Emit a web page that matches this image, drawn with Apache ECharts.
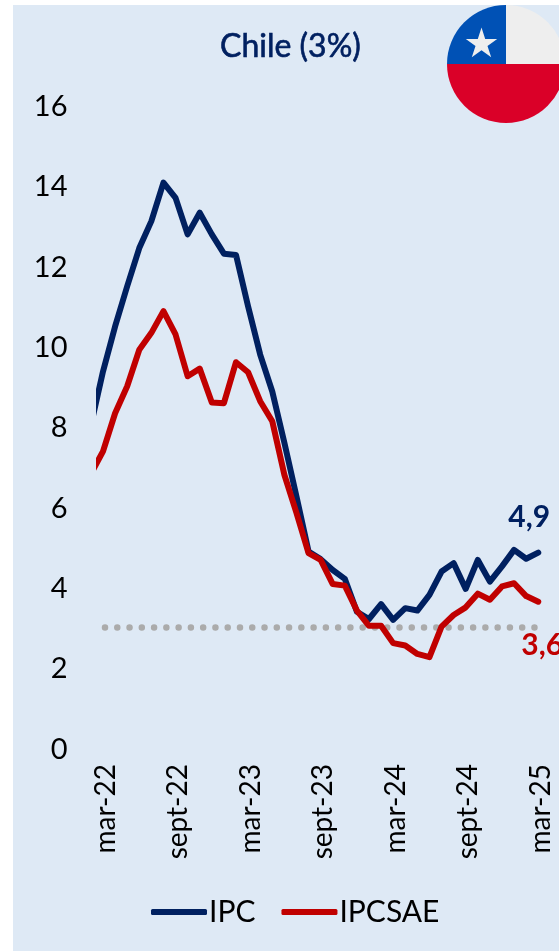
<!DOCTYPE html>
<html><head><meta charset="utf-8">
<script src="https://cdn.jsdelivr.net/npm/echarts@6/dist/echarts.min.js"></script>
<style>
html,body{margin:0;padding:0;background:#fff;width:559px;height:951px;overflow:hidden}
#bg{position:absolute;left:13px;top:5px;width:546px;height:946px;background:#DEE9F5}
#c{position:absolute;left:0;top:0;width:559px;height:951px}
</style></head><body><div id="bg"></div><div id="c"></div>
<script>
const FONT = 'Lato';
const months = ['feb-22','mar-22','abr-22','may-22','jun-22','jul-22','ago-22','sept-22','oct-22','nov-22','dic-22','ene-23','feb-23','mar-23','abr-23','may-23','jun-23','jul-23','ago-23','sept-23','oct-23','nov-23','dic-23','ene-24','feb-24','mar-24','abr-24','may-24','jun-24','jul-24','ago-24','sept-24','oct-24','nov-24','dic-24','ene-25','feb-25','mar-25'];
const ipc = [8.03,9.37,10.49,11.49,12.44,13.11,14.07,13.69,12.78,13.32,12.78,12.3,12.27,10.99,9.79,8.87,7.6,6.26,4.89,4.7,4.43,4.21,3.39,3.21,3.58,3.19,3.48,3.42,3.81,4.39,4.6,3.96,4.68,4.14,4.52,4.93,4.71,4.86];
const ipcsae = [6.82,7.38,8.33,9.0,9.91,10.33,10.87,10.29,9.25,9.44,8.6,8.58,9.6,9.35,8.63,8.13,6.8,5.85,4.85,4.68,4.08,4.04,3.42,3.04,3.04,2.61,2.55,2.34,2.26,3.02,3.31,3.5,3.84,3.69,4.02,4.1,3.78,3.64];
const target = 3;
const tickMonths = ['mar-22','sept-22','mar-23','sept-23','mar-24','sept-24','mar-25'];
const yTicks = [0,2,4,6,8,10,12,14,16];
const ipcLabel = '4,9', ipcsaeLabel = '3,6';

const NAVY='#002060', RED='#C00000';
const pos = m => months.indexOf(m);
const pts = arr => arr.map((v,i)=>[i,v]);
const endLabel = (text,color,offset) => ({show:true,formatter:text,offset,color,fontFamily:FONT,fontSize:30,fontWeight:'bold'});

// flag star
const star=[];for(let k=0;k<10;k++){const r=k%2?6.3:16.5,a=-Math.PI/2+k*Math.PI/5;star.push([481.5+r*Math.cos(a),44+r*Math.sin(a)]);}
const F={cx:506,cy:64,r:59};

const chart=echarts.init(document.getElementById('c'),null,{renderer:'canvas'});
chart.setOption({
  animation:false,
  backgroundColor:'transparent',
  title:{text:'Chile (3%)',left:220,top:31,padding:0,textStyle:{color:NAVY,fontFamily:FONT,fontSize:32,fontWeight:'normal',textBorderColor:NAVY,textBorderWidth:0.6}},
  grid:{left:99.5,right:14.7,top:105,height:643,containLabel:false},
  xAxis:{type:'value',min:0.71,max:37.5,
    splitLine:{show:false},axisLine:{show:false},axisTick:{show:false},
    axisLabel:{customValues:tickMonths.map(pos),rotate:90,margin:16,
      formatter:v=>'{a|'+months[v]+'}',rich:{a:{color:'#000',fontFamily:FONT,fontSize:28,padding:[5,0,0,0]}},hideOverlap:false,showMinLabel:true,showMaxLabel:true}},
  yAxis:{type:'value',min:0,max:16,interval:2,
    splitLine:{show:false},axisLine:{show:false},axisTick:{show:false},
    axisLabel:{customValues:yTicks,margin:32,formatter:v=>'{a|'+v+'}',rich:{a:{color:'#000',fontFamily:FONT,fontSize:29,padding:[3,0,0,0]}}}},
  legend:{data:['IPC','IPCSAE'],left:151,top:897,itemWidth:56,itemHeight:6,itemGap:26,padding:0,icon:'roundRect',
    textStyle:{color:'#000',fontFamily:FONT,fontSize:30,padding:[0,0,0,-3]}},
  series:[
    {name:'Meta',type:'line',data:pts(months.map(()=>target)).slice(1),showSymbol:false,silent:true,
      lineStyle:{color:'#ABABAB',width:6.5,type:[0,12.27],cap:'round',dashOffset:-2}},
    {name:'IPC',type:'line',data:pts(ipc),symbol:'none',endLabel:endLabel(ipcLabel,NAVY,[-38,-35]),
      lineStyle:{color:NAVY,width:6,cap:'round',join:'round'},itemStyle:{color:NAVY}},
    {name:'IPCSAE',type:'line',data:pts(ipcsae),symbol:'none',endLabel:endLabel(ipcsaeLabel,RED,[-25,44]),
      lineStyle:{color:RED,width:6,cap:'round',join:'round'},itemStyle:{color:RED}}
  ],
  graphic:[
    {type:'sector',shape:{cx:F.cx,cy:F.cy,r:F.r,startAngle:0,endAngle:Math.PI},style:{fill:'#DA0028'},z:10},
    {type:'sector',shape:{cx:F.cx,cy:F.cy,r:F.r,startAngle:Math.PI,endAngle:1.5*Math.PI},style:{fill:'#0051B5'},z:10},
    {type:'sector',shape:{cx:F.cx,cy:F.cy,r:F.r,startAngle:1.5*Math.PI,endAngle:2*Math.PI},style:{fill:'#EEEEEE'},z:10},
    {type:'polygon',shape:{points:star},style:{fill:'#EEEEEE'},z:11}
  ]
});
</script></body></html>
